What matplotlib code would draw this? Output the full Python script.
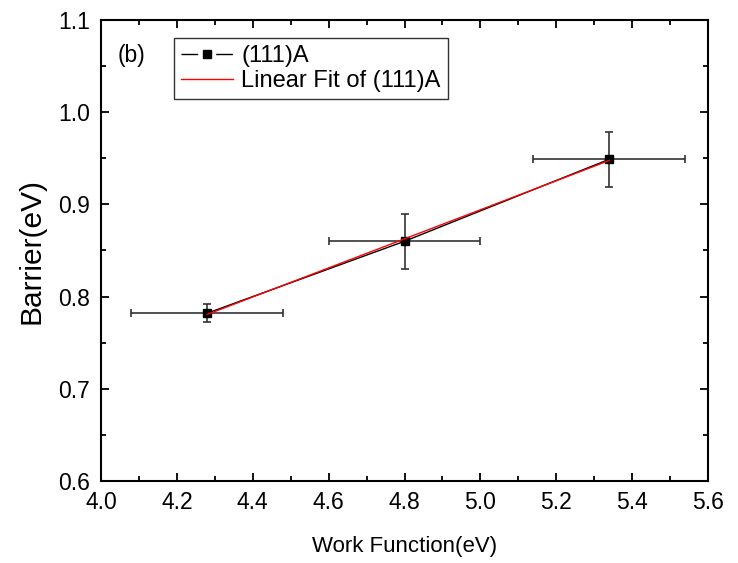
import numpy as np
import matplotlib
matplotlib.use("Agg")
import matplotlib.pyplot as plt
from matplotlib.ticker import MultipleLocator, FormatStrFormatter
from matplotlib.lines import Line2D

plt.rcParams['font.family'] = ['Liberation Sans', 'DejaVu Sans']

work_function = [4.28, 4.80, 5.34]
barrier = [0.782, 0.860, 0.949]
x_err = [0.20, 0.20, 0.20]
y_err = [0.010, 0.030, 0.030]

fig = plt.figure(figsize=(7.38, 5.63), dpi=100)
ax = fig.add_axes([101/738, 1-481/563, (708-101)/738, (481-20)/563])

ax.errorbar(work_function, barrier, xerr=x_err, yerr=y_err, fmt='s-', color='black',
            ecolor='#333333', elinewidth=1.2, capsize=3, capthick=1.2, markersize=6,
            linewidth=1.0, zorder=3)
coef = np.polyfit(work_function, barrier, 1)
xf = np.array([min(work_function), max(work_function)])
ax.plot(xf, np.polyval(coef, xf), color='red', linewidth=1.0, zorder=4)

ax.set_xlim(4.0, 5.6)
ax.set_ylim(0.6, 1.1)
ax.xaxis.set_major_locator(MultipleLocator(0.2))
ax.xaxis.set_minor_locator(MultipleLocator(0.1))
ax.yaxis.set_major_locator(MultipleLocator(0.1))
ax.yaxis.set_minor_locator(MultipleLocator(0.05))
ax.xaxis.set_major_formatter(FormatStrFormatter('%.1f'))
ax.yaxis.set_major_formatter(FormatStrFormatter('%.1f'))
ax.tick_params(which='both', direction='in', top=True, right=True, width=1.3)
ax.tick_params(which='major', length=6, labelsize=16.5)
ax.tick_params(axis='x', which='major', pad=7)
ax.tick_params(axis='y', which='major', pad=8)
ax.tick_params(which='minor', length=3.5)
for s in ax.spines.values():
    s.set_linewidth(1.5)

ax.set_xlabel('Work Function(eV)', fontsize=16, labelpad=16)
ax.set_ylabel('Barrier(eV)', fontsize=21.5, labelpad=9)
ax.text(0.028, 0.924, '(b)', transform=ax.transAxes, fontsize=16.5, va='center')

h_data = Line2D([], [], color='black', linewidth=1.0, linestyle=(0, (12, 13)),
                marker='s', markersize=6)
h_fit = Line2D([], [], color='red', linewidth=1.0)
leg = ax.legend([h_data, h_fit], ['(111)A', 'Linear Fit of (111)A'],
                loc='upper left', bbox_to_anchor=(0.12, 0.961), borderaxespad=0,
                fontsize=17, frameon=True, fancybox=False, edgecolor='black',
                handlelength=2.2, handletextpad=0.35, borderpad=0.3,
                labelspacing=0.12)
leg.get_frame().set_linewidth(1.0)

fig.savefig('out.png', dpi=100)
